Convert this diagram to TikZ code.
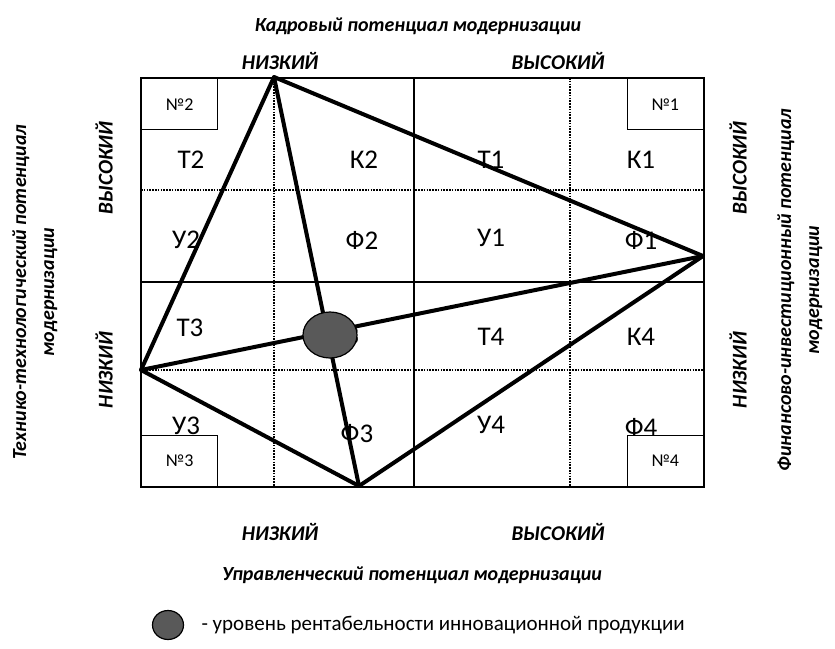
\documentclass[tikz,border=0pt]{standalone}
\usepackage{fontspec}
\usetikzlibrary{shapes.geometric}
\setmainfont{Carlito}
\begin{document}
\begin{tikzpicture}[x=1pt,y=-1pt,
  frame/.style={line width=1.8pt},
  midline/.style={line width=1.4pt},
  dotline/.style={line width=2pt,dash pattern=on 1.6pt off 1.2pt},
  poly/.style={line width=4pt,line join=round,line cap=round},
  cell/.style={font=\fontsize{27}{29}\selectfont},
  axis/.style={font=\fontsize{21}{23}\selectfont\bfseries\itshape},
  ttl/.style={font=\fontsize{20}{28}\selectfont\bfseries\itshape,align=center},
  cbox/.style={draw,line width=1.4pt,minimum width=76pt,minimum height=51pt,inner sep=0pt,font=\fontsize{18}{20}\selectfont},
  dot/.style={draw,line width=1.2pt,fill=black!65,ellipse}
]
\useasboundingbox (0,0) rectangle (835,648);
% grid
\draw[dotline] (274,78) -- (274,487);
\draw[dotline] (570,78) -- (570,487);
\draw[dotline] (141,190) -- (704,190);
\draw[dotline] (141,370) -- (704,370);
\draw[midline] (414,78) -- (414,487);
\draw[midline] (141,282) -- (704,282);
\draw[frame] (141,78) rectangle (704,487);
% corner boxes
\node[cbox,anchor=north west] (n2) at (141,78) {№2};
\node[cbox,anchor=north east] (n1) at (704,78) {№1};
\node[cbox,anchor=south west] (n3) at (141,487) {№3};
\node[cbox,anchor=south east] (n4) at (704,487) {№4};
% cell labels
\node[cell] (t2) at (191,160) {Т2};
\node[cell] (k2) at (364,160) {К2};
\node[cell] (t1) at (491,160) {Т1};
\node[cell] (k1) at (641,160) {К1};
\node[cell] (u2) at (186,240) {У2};
\node[cell] (f2) at (362,240) {Ф2};
\node[cell] (u1) at (491,238) {У1};
\node[cell] (f1) at (641,240) {Ф1};
\node[cell] (t3) at (190,328) {Т3};
\node[cell] (k3) at (345,336) {К3};
\node[cell] (t4) at (491,337) {Т4};
\node[cell] (k4) at (641,337) {К4};
\node[cell] (u3) at (186,426) {У3};
\node[cell] (f3) at (357,434) {Ф3};
\node[cell] (u4) at (491,425) {У4};
\node[cell] (f4) at (641,427) {Ф4};
% polygon
\coordinate (T) at (274,77);
\coordinate (L) at (141,370);
\coordinate (R) at (703,256);
\coordinate (B) at (359,486);
\draw[poly] (T) -- (L) -- (B) -- (R) -- cycle;
\draw[poly] (T) -- (B);
\draw[poly] (L) -- (R);
\node[dot,minimum width=54pt,minimum height=46pt,inner sep=0pt] (lvl) at (330,335) {};
% axis labels
\node[ttl] (toptitle) at (418,26) {Кадровый потенциал модернизации};
\node[axis] (tlow) at (280,61) {НИЗКИЙ};
\node[axis] (thigh) at (558,61) {ВЫСОКИЙ};
\node[axis] (blow) at (280,532) {НИЗКИЙ};
\node[axis] (bhigh) at (558,532) {ВЫСОКИЙ};
\node[ttl] (bottitle) at (412,575) {Управленческий потенциал модернизации};
\node[ttl,rotate=90] (lefttitle) at (35,292) {Технико-технологический потенциал\\модернизации};
\node[axis,rotate=90] (lhigh) at (104,168) {ВЫСОКИЙ};
\node[axis,rotate=90] (llow) at (104,370) {НИЗКИЙ};
\node[ttl,rotate=90] (righttitle) at (800,290) {Финансово-инвестиционный потенциал\\модернизации};
\node[axis,rotate=90] (rhigh) at (738,168) {ВЫСОКИЙ};
\node[axis,rotate=90] (rlow) at (738,370) {НИЗКИЙ};
% legend
\node[dot,minimum width=31pt,minimum height=29pt,inner sep=0pt] (legdot) at (168,625) {};
\node[anchor=west,font=\fontsize{21}{23}\selectfont] (legtext) at (198,625) {- уровень рентабельности инновационной продукции};
\end{tikzpicture}
\end{document}
